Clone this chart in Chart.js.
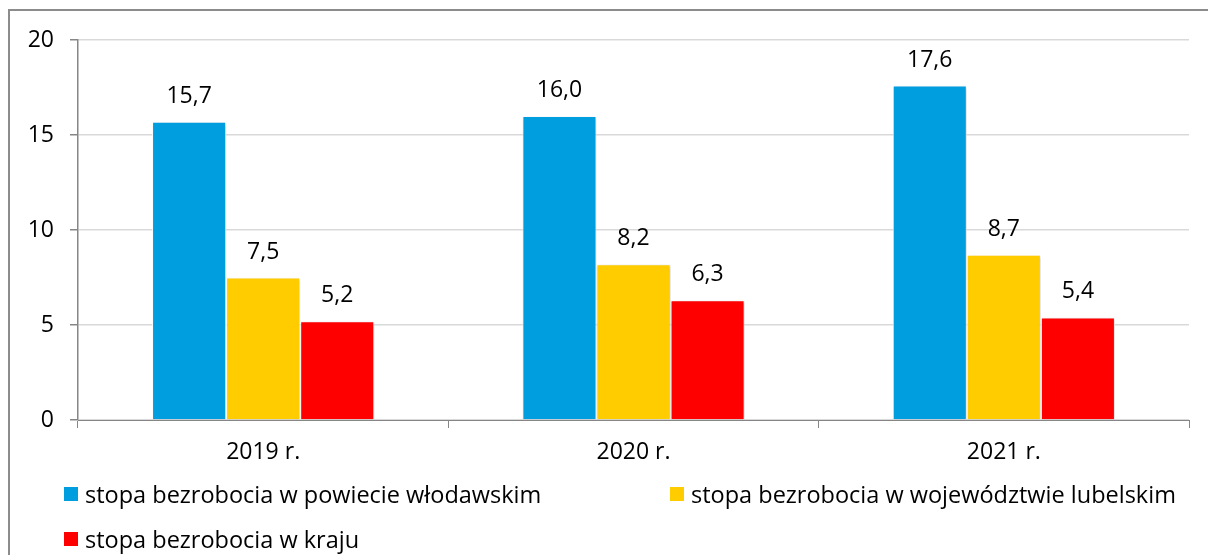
<!DOCTYPE html>
<html lang="pl">
<head>
    <meta charset="UTF-8">
    <title>Stopa bezrobocia</title>
    <script src="https://cdn.jsdelivr.net/npm/chart.js"></script>
    <style>
        html, body {
            margin: 0;
            padding: 0;
            background: #fff;
            overflow: hidden;
        }
        .frame {
            position: absolute;
            left: 8px;
            top: 9px;
            width: 1300px;
            height: 700px;
            border-left: 2px solid #8c8c8c;
            border-top: 2px solid #8c8c8c;
        }
        .chart-box {
            position: absolute;
            left: 0;
            top: 0;
            width: 1208px;
            height: 555px;
        }
        .legend {
            position: absolute;
            left: 0;
            top: 0;
            font-family: "Open Sans", sans-serif;
            font-size: 23.5px;
            color: #000;
        }
        .legend-item {
            position: absolute;
            white-space: nowrap;
            line-height: 30px;
        }
        .legend-item span.box {
            position: absolute;
            width: 14px;
            height: 14px;
            left: 0;
            top: 8px;
        }
        .legend-item span.txt {
            position: absolute;
            left: 21px;
            top: 0;
        }
    </style>
</head>
<body>
    <div class="frame"></div>
    <div class="chart-box">
        <canvas id="unemploymentChart" width="1208" height="555"></canvas>
    </div>
    <div class="legend" id="legend"></div>

    <script>
        // dane z wykresu
        const years = ['2019 r.', '2020 r.', '2021 r.'];
        const powiat = [15.7, 16.0, 17.6];
        const wojewodztwo = [7.5, 8.2, 8.7];
        const kraj = [5.2, 6.3, 5.4];
        const yTicks = [0, 5, 10, 15, 20];

        const seriesNames = [
            'stopa bezrobocia w powiecie włodawskim',
            'stopa bezrobocia w województwie lubelskim',
            'stopa bezrobocia w kraju'
        ];
        const seriesColors = ['#009ddf', '#ffcc00', '#ff0000'];
        const legendPos = [[64, 479], [670, 479], [64, 524]];

        const FONT = '"Open Sans", sans-serif';

        // etykiety wartości nad słupkami
        const valueLabels = {
            id: 'valueLabels',
            afterDatasetsDraw(chart) {
                const ctx = chart.ctx;
                ctx.save();
                ctx.font = '23px ' + FONT;
                ctx.fillStyle = '#000';
                ctx.textAlign = 'center';
                ctx.textBaseline = 'alphabetic';
                chart.data.datasets.forEach((ds, i) => {
                    chart.getDatasetMeta(i).data.forEach((bar, j) => {
                        const txt = ds.data[j].toFixed(1).replace('.', ',');
                        ctx.fillText(txt, bar.x, bar.y - 19);
                    });
                });
                ctx.restore();
            }
        };

        // lekki cień słupków
        const barShadow = {
            id: 'barShadow',
            beforeDatasetsDraw(chart) {
                const ctx = chart.ctx;
                ctx.save();
                ctx.shadowColor = 'rgba(0,0,0,0.22)';
                ctx.shadowBlur = 3;
                ctx.shadowOffsetX = 1;
                ctx.shadowOffsetY = 1;
            },
            afterDatasetsDraw(chart) {
                chart.ctx.restore();
            }
        };

        new Chart(document.getElementById('unemploymentChart'), {
            type: 'bar',
            data: {
                labels: years,
                datasets: [powiat, wojewodztwo, kraj].map((vals, i) => ({
                    label: seriesNames[i],
                    data: vals,
                    backgroundColor: seriesColors[i],
                    borderColor: '#ffffff',
                    borderWidth: 1,
                    categoryPercentage: 0.6,
                    barPercentage: 1.0
                }))
            },
            options: {
                responsive: false,
                animation: false,
                events: [],
                layout: {
                    padding: { left: 0, right: 19, top: 40, bottom: 75 }
                },
                plugins: {
                    legend: { display: false },
                    tooltip: { enabled: false }
                },
                scales: {
                    x: {
                        offset: true,
                        grid: {
                            display: true,
                            drawOnChartArea: false,
                            tickLength: 8,
                            tickColor: '#868686',
                            offset: true
                        },
                        border: { color: '#868686', width: 1 },
                        ticks: {
                            color: '#000',
                            padding: 11,
                            font: { family: FONT, size: 23 }
                        },
                        afterFit(scale) { scale.height = 60; }
                    },
                    y: {
                        min: 0,
                        max: 20,
                        afterBuildTicks(scale) {
                            scale.ticks = yTicks.map(v => ({ value: v }));
                        },
                        grid: {
                            color: '#d9d9d9',
                            lineWidth: 1.5,
                            tickLength: 8,
                            tickColor: '#868686'
                        },
                        border: { color: '#868686', width: 1.5 },
                        ticks: {
                            color: '#000',
                            padding: 16,
                            font: { family: FONT, size: 23 }
                        },
                        afterFit(scale) { scale.width = 78; }
                    }
                }
            },
            plugins: [barShadow, valueLabels]
        });

        // legenda HTML
        const legend = document.getElementById('legend');
        seriesNames.forEach((name, i) => {
            const item = document.createElement('div');
            item.className = 'legend-item';
            item.style.left = legendPos[i][0] + 'px';
            item.style.top = legendPos[i][1] + 'px';
            item.innerHTML = `<span class="box" style="background:${seriesColors[i]}"></span><span class="txt">${name}</span>`;
            legend.appendChild(item);
        });
    </script>
</body>
</html>
